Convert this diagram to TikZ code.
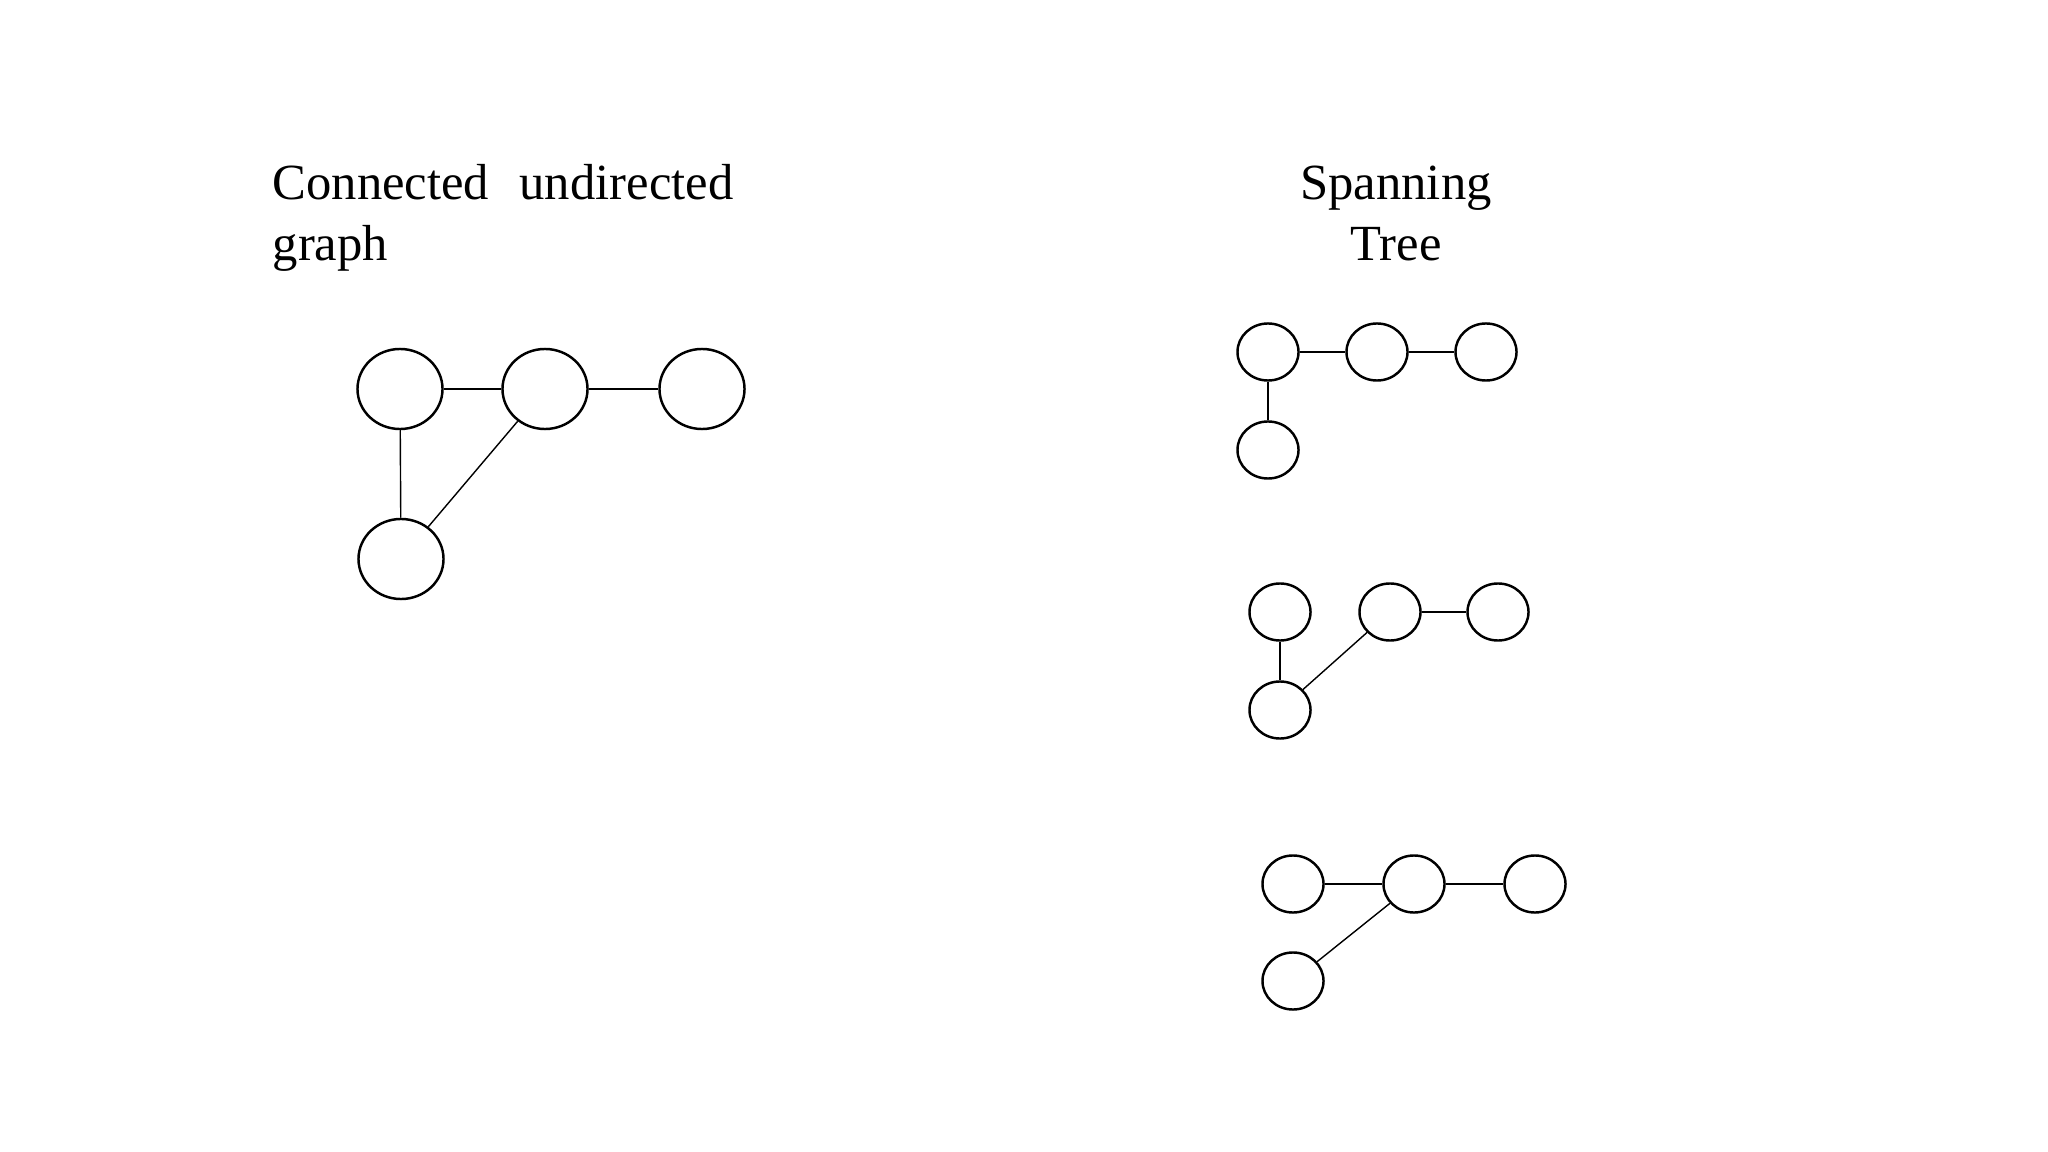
\documentclass[tikz,border=0pt]{standalone}
\usepackage{fontspec}
\setmainfont{Liberation Serif}
\usetikzlibrary{shapes.geometric, positioning}

\begin{document}
\begin{tikzpicture}[
    x=0.01cm, y=-0.01cm,
    title/.style={font=\fontsize{14.4}{17.4}\selectfont, inner sep=0pt},
    bignode/.style={ellipse, draw, line width=0.7pt, minimum width=0.85cm, minimum height=0.8cm, inner sep=0pt},
    smallnode/.style={ellipse, draw, line width=0.7pt, minimum width=0.61cm, minimum height=0.57cm, inner sep=0pt},
    edge/.style={line width=0.4pt}
]
\useasboundingbox (0,0) rectangle (2048,1152);

% titles
\node[title, anchor=base west, align=left] (gtitle) at (272,261) {Connected\hspace{0.6em}undirected\\graph};
\node[title, anchor=base, align=center] (ttitle) at (1396,261) {Spanning\\Tree};

% connected undirected graph
\node[bignode] (g1) at (400,389) {};
\node[bignode] (g2) at (545,389) {};
\node[bignode] (g3) at (702,389) {};
\node[bignode] (g4) at (401,559) {};

\draw[edge] (g1) -- (g2);
\draw[edge] (g2) -- (g3);
\draw[edge] (g1) -- (g4);
\draw[edge] (g2) -- (g4);

% spanning tree 1
\node[smallnode] (a1) at (1268,352) {};
\node[smallnode] (a2) at (1377,352) {};
\node[smallnode] (a3) at (1486,352) {};
\node[smallnode] (a4) at (1268,450) {};

\draw[edge] (a1) -- (a2);
\draw[edge] (a2) -- (a3);
\draw[edge] (a1) -- (a4);

% spanning tree 2
\node[smallnode] (b1) at (1280,612) {};
\node[smallnode] (b2) at (1390,612) {};
\node[smallnode] (b3) at (1498,612) {};
\node[smallnode] (b4) at (1280,710) {};

\draw[edge] (b2) -- (b3);
\draw[edge] (b1) -- (b4);
\draw[edge] (b2) -- (b4);

% spanning tree 3
\node[smallnode] (c1) at (1293,884) {};
\node[smallnode] (c2) at (1414,884) {};
\node[smallnode] (c3) at (1535,884) {};
\node[smallnode] (c4) at (1293,981) {};

\draw[edge] (c1) -- (c2);
\draw[edge] (c2) -- (c3);
\draw[edge] (c4) -- (c2);
\end{tikzpicture}
\end{document}
